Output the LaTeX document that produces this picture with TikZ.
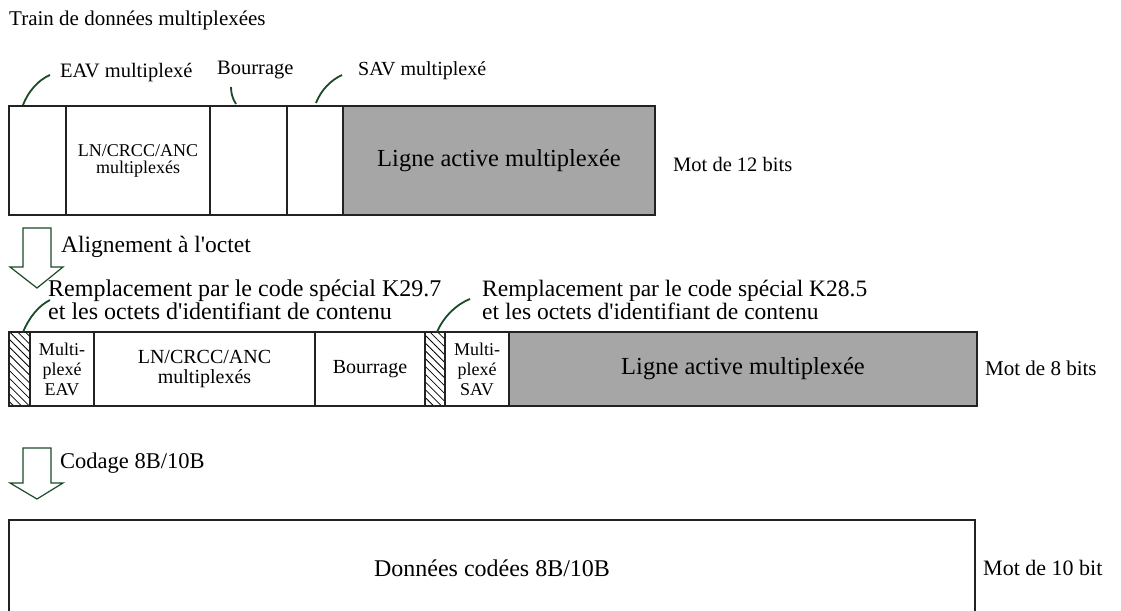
\documentclass[tikz,border=0pt]{standalone}
\usepackage{fontspec}
\setmainfont{Liberation Serif}[Ligatures=TeXOff]
\usetikzlibrary{patterns.meta}
\definecolor{lead}{HTML}{1A4A28}
\definecolor{grayfill}{HTML}{A6A6A6}
\definecolor{edge}{HTML}{222222}
\newcommand\fsz[2]{\fontsize{#1}{#2}\selectfont}
\begin{document}
\begin{tikzpicture}[x=1pt,y=-1pt,
 cell/.style={draw=edge, line width=2.4pt, inner sep=0pt, outer sep=0pt, anchor=north west, align=center},
 shaded/.style={cell, fill=grayfill},
 hatch/.style={cell, pattern={Lines[angle=-45,distance=5.5pt,line width=0.8pt]}},
 lbl/.style={inner sep=0pt, anchor=west, align=left},
 leader/.style={draw=lead, line width=1.8pt},
 blockarrow/.style={draw=lead, line width=1.2pt, fill=white, line join=miter}]
\useasboundingbox (0,0) rectangle (1121,610);
\clip (0,0) rectangle (1121,610);

% title
\node[lbl, font=\fsz{21}{23}] (title) at (9,20) {Train de données multiplexées};

% ---------- row 1 ----------
\node[cell, minimum width=57pt, minimum height=109pt] (e1) at (9,106) {};
\node[cell, minimum width=144pt, minimum height=109pt, font=\fsz{18}{17}] (ln1) at (66,106) {LN/CRCC/ANC\\multiplexés};
\node[cell, minimum width=77pt, minimum height=109pt] (b1) at (210,106) {};
\node[cell, minimum width=56pt, minimum height=109pt] (s1) at (287,106) {};
\node[shaded, minimum width=312pt, minimum height=109pt, font=\fsz{24.5}{26}] (g1) at (343,106) {Ligne active multiplexée};
\node[lbl, font=\fsz{20.5}{23}] (w12) at (673,164) {Mot de 12 bits};

\node[lbl, font=\fsz{20.5}{22}] (eavl) at (60,73) {EAV multiplexé};
\node[lbl, font=\fsz{20.5}{22}] (bourl) at (217,70) {Bourrage};
\node[lbl, font=\fsz{20}{22}] (savl) at (358,71) {SAV multiplexé};

\coordinate (c1a) at (23,105); \coordinate (c1b) at (50,75);
\coordinate (c2a) at (236,104); \coordinate (c2b) at (231,87);
\coordinate (c3a) at (316,103); \coordinate (c3b) at (342,75);
\draw[leader] (c1a) .. controls (28,92) and (38,80) .. (c1b);
\draw[leader] (c2a) .. controls (232,98) and (231,92) .. (c2b);
\draw[leader] (c3a) .. controls (321,90) and (331,80) .. (c3b);

% arrow 1
\draw[blockarrow] (23,228) -- (51,228) -- (51,267) -- (63,267) -- (37,288) -- (10,267) -- (23,267) -- cycle;
\node[lbl, font=\fsz{23.5}{24}] (align) at (61,247) {Alignement à l'octet};

% ---------- row 2 ----------
\node[lbl, font=\fsz{24}{23}] (rep1) at (48,300) {Remplacement par le code spécial K29.7\\et les octets d'identifiant de contenu};
\node[lbl, font=\fsz{23.5}{23}] (rep2) at (482,300) {Remplacement par le code spécial K28.5\\et les octets d'identifiant de contenu};

\node[hatch, minimum width=21pt, minimum height=74pt] (h1) at (9,332) {};
\node[cell, minimum width=64pt, minimum height=74pt, font=\fsz{18}{20}] (m1) at (30,332) {Multi-\\plexé\\EAV};
\node[cell, minimum width=221pt, minimum height=74pt, font=\fsz{20}{20}] (ln2) at (94,332) {LN/CRCC/ANC\\multiplexés};
\node[cell, minimum width=110pt, minimum height=74pt, font=\fsz{20}{22}] (b2) at (315,332) {Bourrage};
\node[hatch, minimum width=20pt, minimum height=74pt] (h2) at (425,332) {};
\node[cell, minimum width=64pt, minimum height=74pt, font=\fsz{18}{20}] (m2) at (445,332) {Multi-\\plexé\\SAV};
\node[shaded, minimum width=468pt, minimum height=74pt, font=\fsz{24.5}{26}] (g2) at (509,332) {Ligne active multiplexée};
\node[lbl, font=\fsz{21}{23}] (w8) at (985,368) {Mot de 8 bits};

\coordinate (c4a) at (23,332); \coordinate (c4b) at (50,300);
\coordinate (c5a) at (437,332); \coordinate (c5b) at (470,299);
\draw[leader] (c4a) .. controls (29,318) and (38,306) .. (c4b);
\draw[leader] (c5a) .. controls (443,318) and (455,305) .. (c5b);

% arrow 2
\draw[blockarrow] (23,448) -- (51,448) -- (51,483) -- (63,483) -- (37,499) -- (10,483) -- (23,483) -- cycle;
\node[lbl, font=\fsz{22.5}{24}] (codage) at (60,463) {Codage 8B/10B};

% ---------- row 3 ----------
\node[cell, minimum width=966pt, minimum height=96pt, font=\fsz{24}{26}] (d3) at (9,520) {Données codées 8B/10B};
\node[lbl, font=\fsz{22}{23}] (w10) at (983,568) {Mot de 10 bit};
\end{tikzpicture}
\end{document}
